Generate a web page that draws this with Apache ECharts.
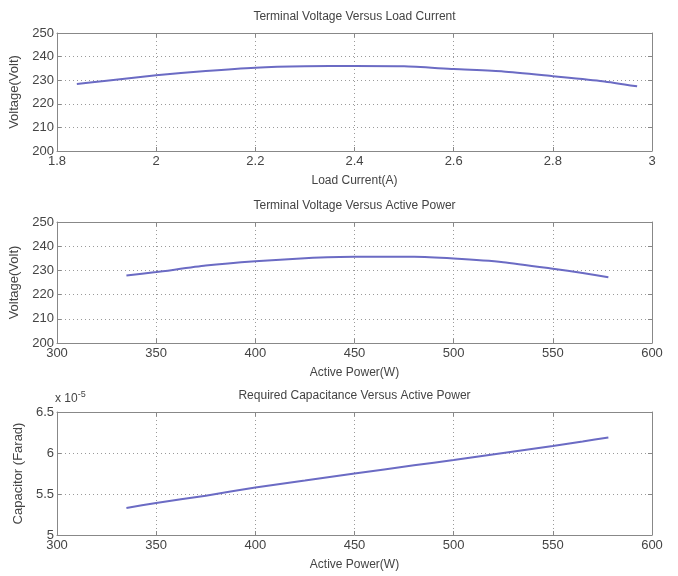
<!DOCTYPE html>
<html>
<head>
<meta charset="utf-8">
<script src="https://cdn.jsdelivr.net/npm/echarts@6/dist/echarts.min.js"></script>
<style>html,body{margin:0;padding:0;background:#fff;}#c{width:678px;height:576px;}</style>
</head>
<body>
<div id="c"></div>
<script>
const currentA = [1.84, 1.9, 2.0, 2.1, 2.2, 2.3, 2.4, 2.5, 2.6, 2.7, 2.8, 2.9, 2.97];
const voltageVsCurrent = [228.4, 229.8, 232.1, 233.9, 235.3, 235.9, 236.0, 235.9, 234.7, 233.7, 231.7, 229.6, 227.4];
const powerW = [335, 350, 375, 400, 425, 450, 480, 500, 525, 550, 565, 578];
const voltageVsPower = [227.9, 229.3, 232.0, 233.8, 235.0, 235.6, 235.6, 234.9, 233.4, 230.7, 228.9, 227.2];
const capacitanceF = [5.33e-5, 5.39e-5, 5.48e-5, 5.58e-5, 5.665e-5, 5.75e-5, 5.85e-5, 5.915e-5, 6.00e-5, 6.085e-5, 6.14e-5, 6.19e-5];

const titles = ['Terminal Voltage Versus Load Current', 'Terminal Voltage Versus Active Power', 'Required Capacitance Versus Active Power'];
const xNames = ['Load Current(A)', 'Active Power(W)', 'Active Power(W)'];
const yNames = ['Voltage(Volt)', 'Voltage(Volt)', 'Capacitor (Farad)'];

const FONT = "'Liberation Sans', Arial, sans-serif";
const TXT = '#444';
const grids = [
  {left: 57, right: 26, top: 33, height: 118},
  {left: 57, right: 26, top: 222, height: 121},
  {left: 57, right: 26, top: 412, height: 123}
];
const xRanges = [{min: 1.8, max: 3, interval: 0.2}, {min: 300, max: 600, interval: 50}, {min: 300, max: 600, interval: 50}];
const yRanges = [{min: 200, max: 250, interval: 10}, {min: 200, max: 250, interval: 10}, {min: 5e-5, max: 6.5e-5, interval: 0.5e-5}];
const seriesData = [
  currentA.map((x, i) => [x, voltageVsCurrent[i]]),
  powerW.map((x, i) => [x, voltageVsPower[i]]),
  powerW.map((x, i) => [x, capacitanceF[i]])
];

const xAxis = [], yAxis = [], series = [];
grids.forEach((g, i) => {
  const split = {show: true, lineStyle: {color: '#9a9a9a', type: [1, 3], width: 1}};
  const line = {show: true, lineStyle: {color: '#888', width: 1}};
  const tick = {show: true, inside: true, length: 4, lineStyle: {color: '#888'}};
  const xfmt = i === 0 ? (v => String(+v.toFixed(1))) : (v => String(Math.round(v)));
  const yfmt = i === 2 ? (v => String(+(v * 1e5).toFixed(1))) : (v => String(Math.round(v)));
  xAxis.push({type: 'value', gridIndex: i, position: 'bottom', ...xRanges[i],
    axisLine: line, axisTick: tick, splitLine: split,
    axisLabel: {color: TXT, fontFamily: FONT, fontSize: 13, margin: 4, formatter: xfmt, showMinLabel: true, showMaxLabel: true},
    name: xNames[i], nameLocation: 'middle', nameGap: 24,
    nameTextStyle: {color: TXT, fontFamily: FONT, fontSize: 12}});
  xAxis.push({type: 'value', gridIndex: i, position: 'top', ...xRanges[i],
    axisLine: line, axisTick: tick, splitLine: {show: false}, axisLabel: {show: false}});
  yAxis.push({type: 'value', gridIndex: i, position: 'left', ...yRanges[i],
    axisLine: line, axisTick: tick, splitLine: split,
    axisLabel: {color: TXT, fontFamily: FONT, fontSize: 13, margin: 3, formatter: yfmt, showMinLabel: true, showMaxLabel: true},
    name: yNames[i], nameLocation: 'middle', nameGap: i === 2 ? 31 : 35,
    nameTextStyle: {color: TXT, fontFamily: FONT, fontSize: 13}});
  yAxis.push({type: 'value', gridIndex: i, position: 'right', ...yRanges[i],
    axisLine: line, axisTick: tick, splitLine: {show: false}, axisLabel: {show: false}});
  series.push({type: 'line', xAxisIndex: i * 2, yAxisIndex: i * 2, data: seriesData[i],
    showSymbol: false, symbol: 'none', smooth: 0.2, lineStyle: {color: '#6b6bc4', width: 2}, animation: false});
});

const graphic = titles.map((t, i) => ({type: 'text', x: 354.5, y: grids[i].top - 16,
  style: {text: t, fill: TXT, font: "12px " + FONT, textAlign: 'center', textVerticalAlign: 'middle'}}));
graphic.push({type: 'text', x: 55, y: 399,
  style: {text: 'x 10{s|-5}', rich: {s: {fontSize: 9, verticalAlign: 'top', padding: [0, 0, 8, 0], fill: TXT, fontFamily: FONT}},
    fill: TXT, font: "12px " + FONT, textVerticalAlign: 'middle'}});

const chart = echarts.init(document.getElementById('c'), null, {renderer: 'canvas'});
chart.setOption({
  backgroundColor: '#fff',
  animation: false,
  grid: grids.map(g => ({...g, show: false, containLabel: false})),
  xAxis, yAxis, series, graphic
});
</script>
</body>
</html>
